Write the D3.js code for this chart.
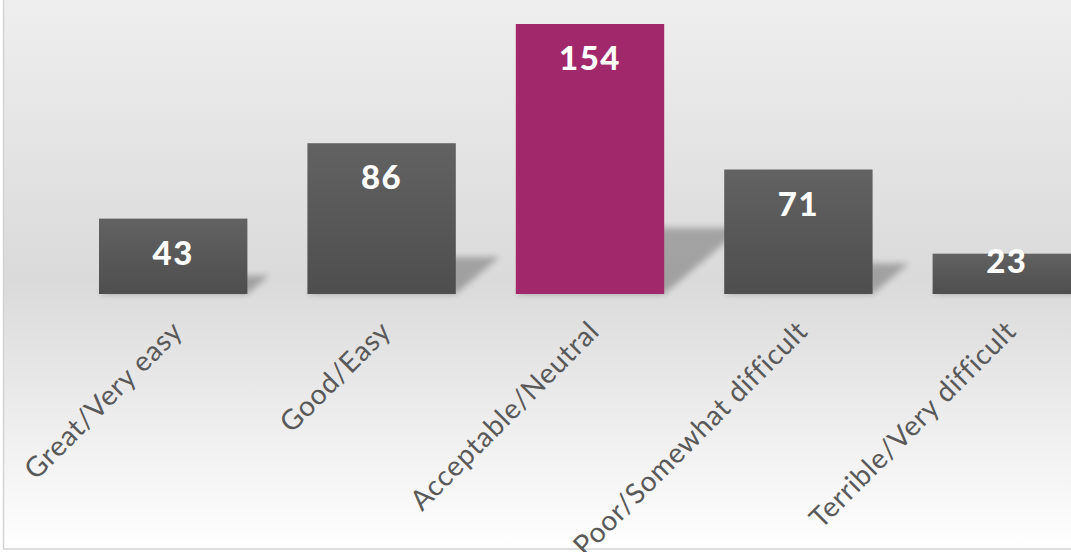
<!DOCTYPE html>
<html><head><meta charset="utf-8">
<script src="https://cdn.jsdelivr.net/npm/d3@7"></script>
<style>html,body{margin:0;padding:0;background:#fff;overflow:hidden}</style>
</head><body>
<script>
const categories = ["Great/Very easy","Good/Easy","Acceptable/Neutral","Poor/Somewhat difficult","Terrible/Very difficult"];
const values = [43, 86, 154, 71, 23];
const highlight = ["Acceptable/Neutral"];

const W = 1071, H = 552;
const svg = d3.select("body").append("svg").attr("width", W).attr("height", H);
const defs = svg.append("defs");

const bg = defs.append("linearGradient").attr("id","bg").attr("x1",0).attr("y1",0).attr("x2",0).attr("y2",1);
bg.append("stop").attr("offset","0%").attr("stop-color","#efefef");
bg.append("stop").attr("offset","52%").attr("stop-color","#dadada");
bg.append("stop").attr("offset","100%").attr("stop-color","#ffffff");

const barG = defs.append("linearGradient").attr("id","bar").attr("x1",0).attr("y1",0).attr("x2",0).attr("y2",1);
barG.append("stop").attr("offset","0%").attr("stop-color","#626262");
barG.append("stop").attr("offset","100%").attr("stop-color","#4e4e4e");

const blur = defs.append("filter").attr("id","blur").attr("x","-50%").attr("y","-50%").attr("width","200%").attr("height","200%");
blur.append("feGaussianBlur").attr("stdDeviation",3);

svg.append("rect").attr("x",0).attr("y",0).attr("width",W).attr("height",H).attr("fill","#fff");
svg.append("rect").attr("x",3.5).attr("y",-10).attr("width",W+100).attr("height",559)
  .attr("fill","url(#bg)").attr("stroke","#d4d4d4").attr("stroke-width",1.5);

const x = d3.scaleBand().domain(categories).range([69, 1111]).paddingInner(0.288).paddingOuter(0.144);
const y = d3.scaleLinear().domain([0, 154]).range([294, 24]);
const y0 = y(0);

const data = categories.map((c,i)=>({cat:c, value:values[i]}));

// perspective shadows
svg.append("g").selectAll("path").data(data).join("path")
  .attr("d", d => {
    const h = y0 - y(d.value), x0 = x(d.cat), x1 = x0 + x.bandwidth();
    const sx = h*0.29, sy = h*0.245;
    return `M${x0},${y0}L${x1},${y0}L${x1+sx},${y0-sy}L${x0+sx},${y0-sy}Z`;
  })
  .attr("fill","#000").attr("opacity",0.26).attr("filter","url(#blur)");

svg.append("g").selectAll("rect").data(data).join("rect")
  .attr("x", d=>x(d.cat)).attr("y", d=>y(d.value))
  .attr("width", x.bandwidth()).attr("height", d=>y0 - y(d.value))
  .attr("fill", d=> highlight.includes(d.cat) ? "#a1286a" : "url(#bar)");

svg.append("g").selectAll("text").data(data).join("text")
  .attr("x", d=>x(d.cat)+x.bandwidth()/2)
  .attr("y", d=>Math.min(y(d.value)+46, y0-21))
  .attr("text-anchor","middle")
  .attr("font-family","Lato, 'Open Sans', sans-serif").attr("font-weight",900)
  .attr("font-size",33).attr("letter-spacing",1.5).attr("fill","#fff")
  .text(d=>d.value);

svg.append("g").selectAll("text").data(categories).join("text")
  .attr("transform", c=>`translate(${x(c)+x.bandwidth()/2+11},${y0+39}) rotate(-45)`)
  .attr("text-anchor","end")
  .attr("font-family","Lato, 'Open Sans', sans-serif")
  .attr("font-size",28).attr("letter-spacing",0.7).attr("fill","#595959")
  .text(c=>c);
</script>
</body></html>
